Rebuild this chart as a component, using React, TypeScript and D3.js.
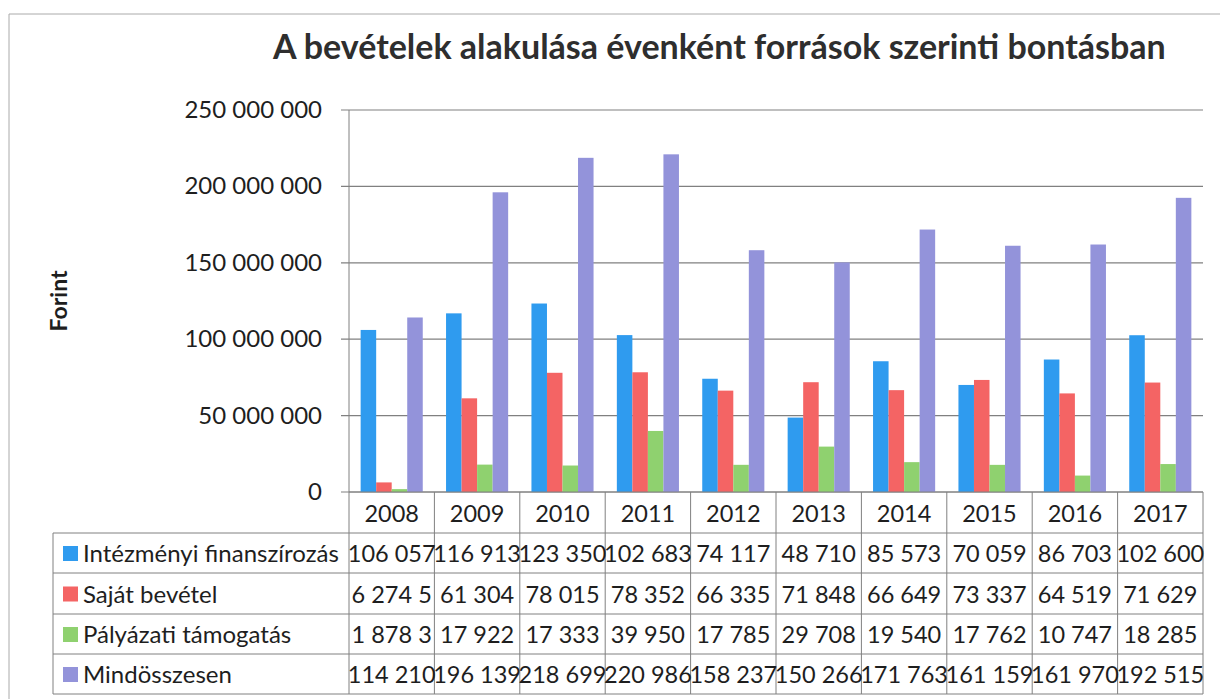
import React from "react";
import * as d3 from "d3";

// values as printed in the data table (thousand Ft); 2008 cells are cut off in the source
const years = ["2008", "2009", "2010", "2011", "2012", "2013", "2014", "2015", "2016", "2017"];
const intezmenyi = [106057, 116913, 123350, 102683, 74117, 48710, 85573, 70059, 86703, 102600];
const sajat = [6274.5, 61304, 78015, 78352, 66335, 71848, 66649, 73337, 64519, 71629];
const palyazati = [1878.3, 17922, 17333, 39950, 17785, 29708, 19540, 17762, 10747, 18285];
const osszesen = [114210, 196139, 218699, 220986, 158237, 150266, 171763, 161159, 161970, 192515];

const seriesNames = ["Intézményi finanszírozás", "Saját bevétel", "Pályázati támogatás", "Mindösszesen"];
const seriesColors = ["#2f9bef", "#f46464", "#8fd16f", "#9393da"];
const yTicks = [0, 50000000, 100000000, 150000000, 200000000, 250000000];

const title = "A bevételek alakulása évenként források szerinti bontásban";
const font = "Lato, 'Open Sans', sans-serif";

const fmt = d3.formatLocale({ decimal: " ", thousands: " ", grouping: [3], currency: ["", ""] }).format(",");

const App = () => {
  const width = 1220;
  const height = 699;
  const plot = { left: 349, right: 1203, top: 110, bottom: 492 };
  const tableLeft = 53;
  const rowLines = [533, 573, 614, 654, 694];

  const allSeries = [intezmenyi, sajat, palyazati, osszesen];

  const x = d3.scaleBand().domain(years).range([plot.left, plot.right]);
  const x1 = d3
    .scaleBand()
    .domain(seriesNames)
    .range([0, x.bandwidth()])
    .paddingInner(0)
    .paddingOuter(0.75);
  const y = d3.scaleLinear().domain([0, 250000000]).range([plot.bottom, plot.top]);

  const textColor = "#1e1e1e";
  const lineColor = "#808080";
  const fs = 24;
  const numFs = 23.5;

  return (
    <svg width={width} height={height} style={{ position: "absolute", left: 0, top: 0, background: "#fff" }}>
      {/* outer frame (scan) */}
      <line x1={9} x2={width} y1={14} y2={14} stroke="#aaa" strokeWidth={1} />
      <line x1={9} x2={9} y1={14} y2={height} stroke="#aaa" strokeWidth={1} />

      <text x={273} y={59} fontFamily={font} fontWeight="bold" fontSize={34} fill="#2e2e2e">
        {title}
      </text>

      <text
        transform={`translate(67,301) rotate(-90)`}
        textAnchor="middle"
        fontFamily={font}
        fontWeight="bold"
        fontSize={23}
        fill={textColor}
      >
        Forint
      </text>

      {/* gridlines + y ticks */}
      {yTicks.map((t) => (
        <g key={t}>
          <line x1={plot.left - 8} x2={plot.right} y1={y(t)} y2={y(t)} stroke={lineColor} strokeWidth={1.2} />
          <text x={322} y={y(t) + 8} textAnchor="end" fontFamily={font} fontSize={fs} fill={textColor}>
            {fmt(t)}
          </text>
        </g>
      ))}
      <line x1={plot.left} x2={plot.left} y1={plot.top} y2={plot.bottom} stroke={lineColor} />

      {/* bars */}
      {allSeries.map((vals, si) =>
        vals.map((v, i) => (
          <rect
            key={`${si}-${i}`}
            x={(x(years[i]) as number) + (x1(seriesNames[si]) as number)}
            y={y(v * 1000)}
            width={x1.bandwidth()}
            height={plot.bottom - y(v * 1000)}
            fill={seriesColors[si]}
          />
        ))
      )}

      {/* data table */}
      <g stroke={lineColor} strokeWidth={1} fill="none">
        <line x1={plot.left} x2={plot.right} y1={plot.bottom} y2={plot.bottom} />
        {rowLines.map((ry) => (
          <line key={ry} x1={tableLeft} x2={plot.right} y1={ry} y2={ry} />
        ))}
        <line x1={tableLeft} x2={tableLeft} y1={rowLines[0]} y2={rowLines[4]} />
        {years.map((yr) => (
          <line key={yr} x1={x(yr)} x2={x(yr)} y1={plot.bottom} y2={rowLines[4]} />
        ))}
        <line x1={plot.right} x2={plot.right} y1={plot.bottom} y2={rowLines[4]} />
      </g>

      {years.map((yr) => (
        <text
          key={yr}
          x={(x(yr) as number) + x.bandwidth() / 2}
          y={(plot.bottom + rowLines[0]) / 2 + 9}
          textAnchor="middle"
          fontFamily={font}
          fontSize={numFs}
          fill={textColor}
        >
          {yr}
        </text>
      ))}

      {seriesNames.map((name, si) => {
        const cy = (rowLines[si] + rowLines[si + 1]) / 2;
        return (
          <g key={name}>
            <rect x={63} y={cy - 7} width={15} height={15} fill={seriesColors[si]} />
            <text x={83} y={cy + 9} fontFamily={font} fontSize={fs} fill={textColor}>
              {name}
            </text>
            {allSeries[si].map((v, i) => (
              <text
                key={i}
                x={(x(years[i]) as number) + x.bandwidth() / 2}
                y={cy + 9}
                textAnchor="middle"
                fontFamily={font}
                fontSize={numFs}
                fill={textColor}
              >
                {fmt(v)}
              </text>
            ))}
          </g>
        );
      })}
    </svg>
  );
};

export default App;
